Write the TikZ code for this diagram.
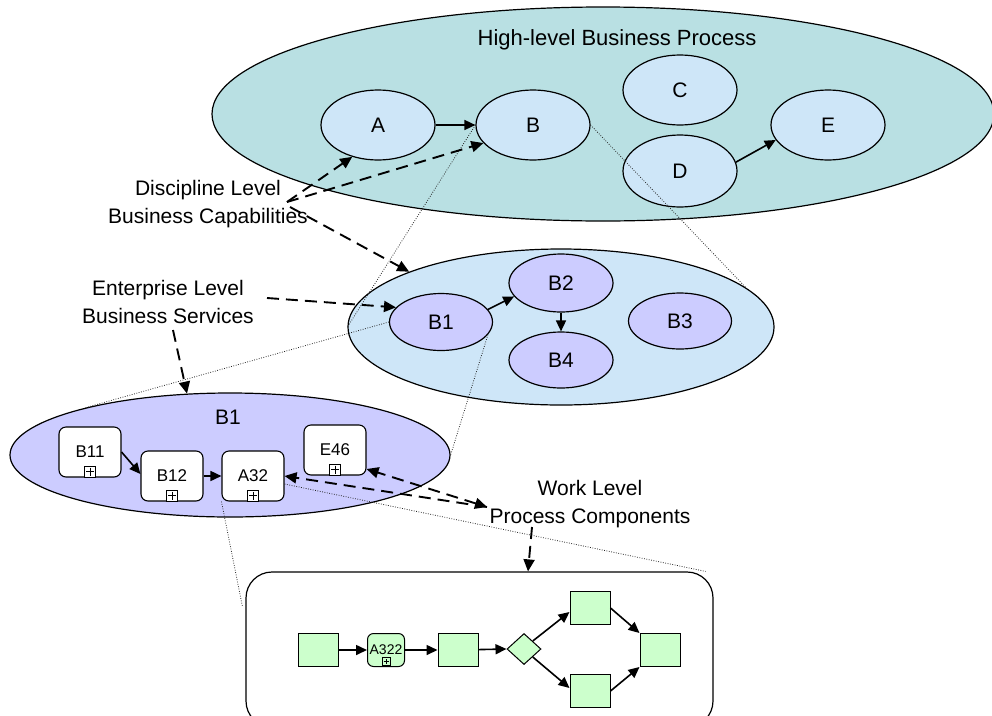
\documentclass[tikz,border=0pt]{standalone}
\usepackage{fontspec}
\setmainfont{Liberation Sans}
\usetikzlibrary{shapes.geometric,arrows.meta}
\definecolor{hlfill}{HTML}{B9E0E3}
\definecolor{lbfill}{HTML}{CEE6F8}
\definecolor{pufill}{HTML}{CCCCFF}
\definecolor{grfill}{HTML}{CCFFCC}
\begin{document}
\begin{tikzpicture}[x=1pt,y=-1pt,
  oval/.style={ellipse, draw, line width=1.2pt, inner sep=0pt, font=\fontsize{21}{25}\selectfont},
  proc/.style={oval, fill=lbfill, minimum width=114pt, minimum height=70pt},
  svc/.style={oval, fill=pufill, minimum width=103pt, minimum height=57pt},
  task/.style={draw, fill=white, rounded corners=7pt, line width=1.1pt, minimum width=62pt, minimum height=50pt, inner sep=0pt, font=\fontsize{17}{20}\selectfont},
  plusbox/.style={draw, fill=white, line width=0.9pt, minimum size=#1, inner sep=0pt,
    path picture={\draw[line width=0.9pt] ([yshift=-1.5pt]path picture bounding box.north) -- ([yshift=1.5pt]path picture bounding box.south);
      \draw[line width=0.9pt] ([xshift=1.5pt]path picture bounding box.west) -- ([xshift=-1.5pt]path picture bounding box.east);}},
  plusbox/.default=11pt,
  gbox/.style={draw, fill=grfill, line width=1pt, minimum width=40pt, minimum height=33pt, inner sep=0pt},
  lab/.style={align=center, font=\fontsize{21}{28}\selectfont},
  tip/.style={Triangle[length=11pt,width=10pt]},
  arr/.style={-{Triangle[length=11pt,width=10pt]}, line width=1.6pt},
  dsh/.style={-{Triangle[length=12pt,width=11pt]}, dash pattern=on 12pt off 7pt, line width=1.9pt},
  dsh2/.style={{Triangle[length=12pt,width=11pt]}-{Triangle[length=12pt,width=11pt]}, dash pattern=on 12pt off 7pt, line width=1.9pt},
  dot/.style={line width=0.8pt, dash pattern=on 0.8pt off 1.6pt, black!85}
]
\useasboundingbox (0,0) rectangle (992,715);

% containers
\node[oval, fill=hlfill, minimum width=782pt, minimum height=214pt] (hl) at (603,114) {};
\node[font=\fontsize{22}{26}\selectfont] (hlt) at (617,40) {High-level Business Process};
\node[oval, fill=lbfill, minimum width=426pt, minimum height=156pt] (sv) at (561,327) {};
\node[oval, fill=pufill, minimum width=440pt, minimum height=124pt] (wl) at (230,455) {};
\node[font=\fontsize{21}{25}\selectfont] (wlt) at (228,417) {B1};
\node[draw, line width=1.2pt, rounded corners=26pt, minimum width=467pt, minimum height=155pt] (detail) at (479.5,649.5) {};

% high-level processes
\node[proc] (A) at (378,125) {A};
\node[proc] (B) at (533,125) {B};
\node[proc] (C) at (680,90) {C};
\node[proc, minimum height=72pt] (D) at (680,171) {D};
\node[proc] (E) at (828,125) {E};

% services
\node[svc] (B1) at (441,322) {B1};
\node[svc, minimum width=104pt, minimum height=58pt] (B2) at (561,283) {B2};
\node[svc, minimum width=104pt, minimum height=56pt] (B4) at (561,360) {B4};
\node[svc, minimum height=56pt] (B3) at (680,321) {B3};

% tasks
\node[task] (B11) at (90,452) {B11};
\node[task] (B12) at (172,476) {B12};
\node[task] (A32) at (253,476) {A32};
\node[task] (E46) at (335,450) {E46};
\node[plusbox, anchor=south] (B11p) at (B11.south) {};
\node[plusbox, anchor=south] (B12p) at (B12.south) {};
\node[plusbox, anchor=south] (A32p) at (A32.south) {};
\node[plusbox, anchor=south] (E46p) at (E46.south) {};

% detail process
\node[gbox] (g1) at (318,650) {};
\node[gbox, rounded corners=6pt, minimum width=37pt, font=\fontsize{14}{16}\selectfont] (A322) at (386,650) {A322};
\node[plusbox=8pt, fill=grfill, anchor=south] (A322p) at ([yshift=1pt]A322.south) {};
\node[gbox] (g3) at (458,650) {};
\node[diamond, draw, fill=grfill, line width=1pt, minimum width=34pt, minimum height=31pt, inner sep=0pt] (dia) at (524,649) {};
\node[gbox] (gt) at (590,608) {};
\node[gbox] (gb) at (590,691) {};
\node[gbox] (gr) at (660,650) {};

% labels
\node[lab] (dl) at (208,204) {Discipline Level\\Business Capabilities};
\node[lab] (el) at (168,302) {Enterprise Level\\Business Services};
\node[lab] (wlab) at (590,504) {Work Level\\Process Components};

% solid arrows
\draw[arr] (A) -- (B);
\draw[arr] (D.9) -- (E.196);
\draw[arr] (B1.15) -- (B2.196);
\draw[arr] (B2) -- (B4);
\draw[arr] (B11.east) -- ([yshift=2pt]B12.west);
\draw[arr] (B12) -- (A32);
\draw[arr] (g1) -- (A322);
\draw[arr] (A322) -- (g3);
\draw[arr] (g3) -- (dia.west);
\draw[arr] (dia.north east) -- ([yshift=-4pt]gt.west);
\draw[arr] (dia.south east) -- ([yshift=3pt]gb.west);
\draw[arr] (gt.east) -- (gr.north west);
\draw[arr] (gb.east) -- (gr.south west);

% dotted projection lines
\draw[dot] (B.west) -- (sv.west);
\draw[dot] (B.east) -- (sv.12);
\draw[dot] (B1.west) -- (wl.162);
\draw[dot] (B1.-15) -- (wl.east);
\draw[dot] (A32.south west) -- ([xshift=-3pt,yshift=-35pt]detail.north west);
\draw[dot] ([yshift=-8pt]A32.east) -- ([xshift=-8pt]detail.north east);

% dashed label arrows
\coordinate (dc) at (287,202);
\coordinate (dc2) at (290,207);
\coordinate (ec1) at (267,298);
\coordinate (ec2) at (173,330);
\coordinate (wc) at (487,507);
\coordinate (wc2) at (532,527);
\draw[dsh] (dc) -- (A.231);
\draw[dsh] (dc) -- (B.200);
\draw[dsh] (dc2) -- (sv.160);
\draw[dsh] (ec1) -- (B1.162);
\draw[dsh] (ec2) -- (wl.125);
\draw[dsh] (wc) -- (A32.east);
\draw[dsh2] (wc) -- ([yshift=-19pt]E46.east);
\draw[dsh] (wc2) -- ([xshift=48.5pt]detail.north);
\end{tikzpicture}
\end{document}
